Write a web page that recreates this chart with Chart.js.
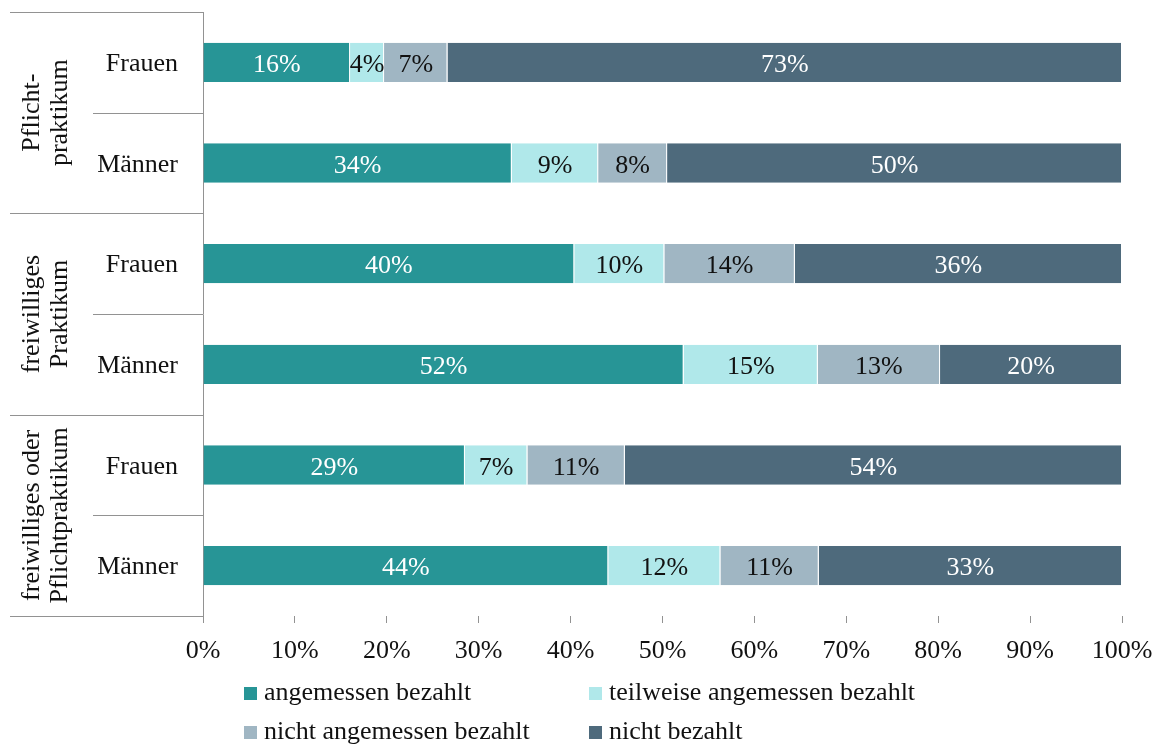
<!DOCTYPE html>
<html>
<head>
<meta charset="utf-8">
<script src="https://cdn.jsdelivr.net/npm/chart.js@4.4.1/dist/chart.umd.min.js"></script>
<style>
  html, body { margin: 0; padding: 0; background: #fff; }
  #wrap { position: relative; width: 1161px; height: 744px; }
</style>
</head>
<body>
<div id="wrap"><canvas id="chart"></canvas></div>
<script>
// Kategorien und Gruppen
const categories = ['Frauen', 'Männer', 'Frauen', 'Männer', 'Frauen', 'Männer'];
const groups = [['Pflicht-', 'praktikum'], ['freiwilliges', 'Praktikum'], ['freiwilliges oder', 'Pflichtpraktikum']];
const seriesNames = ['angemessen bezahlt', 'teilweise angemessen bezahlt', 'nicht angemessen bezahlt', 'nicht bezahlt'];

// Anteile in %
const angemessen = [16.0, 33.6, 40.4, 52.3, 28.5, 44.1];
const teilweise = [3.7, 9.4, 9.8, 14.6, 6.8, 12.2];
const nichtAngemessen = [6.9, 7.5, 14.2, 13.3, 10.6, 10.7];
const nichtBezahlt = [73.4, 49.5, 35.6, 19.8, 54.1, 33.0];

const xTicks = [0, 10, 20, 30, 40, 50, 60, 70, 80, 90, 100];

const colors = ['#279596', '#b0e8ea', '#a0b6c3', '#4e6a7c'];
const labelColors = ['#fff', '#111', '#111', '#fff'];
const FONT = 'Liberation Serif';
const FS = 26;
const lineColor = '#929292';

// Werte in die Balken schreiben
const valueLabels = {
    id: 'valueLabels',
    afterDatasetsDraw(chart) {
        const ctx = chart.ctx;
        ctx.save();
        ctx.font = FS + 'px "' + FONT + '"';
        ctx.textAlign = 'center';
        ctx.textBaseline = 'middle';
        chart.data.datasets.forEach((ds, i) => {
            const meta = chart.getDatasetMeta(i);
            meta.data.forEach((bar, j) => {
                const v = ds.data[j];
                ctx.fillStyle = labelColors[i];
                ctx.fillText(Math.round(v) + '%', (bar.x + bar.base) / 2, bar.y + 3);
            });
        });
        ctx.restore();
    }
};

// Gruppenbeschriftung, Trennlinien und Legende
const sideAndLegend = {
    id: 'sideAndLegend',
    afterDraw(chart) {
        const ctx = chart.ctx;
        const area = chart.chartArea;
        const band = (area.bottom - area.top) / categories.length;
        ctx.save();
        ctx.strokeStyle = lineColor;
        ctx.lineWidth = 1;
        for (let i = 0; i <= categories.length; i++) {
            const y = Math.round(area.top + i * band) + 0.5;
            const x0 = i % 2 === 0 ? 10 : 93;
            ctx.beginPath();
            ctx.moveTo(x0, y);
            ctx.lineTo(area.left, y);
            ctx.stroke();
        }
        // Gruppen (gedreht)
        ctx.fillStyle = '#111';
        ctx.font = FS + 'px "' + FONT + '"';
        ctx.textAlign = 'center';
        ctx.textBaseline = 'middle';
        groups.forEach((lines, g) => {
            const cy = area.top + (g * 2 + 1) * band;
            ctx.save();
            ctx.translate(46, cy);
            ctx.rotate(-Math.PI / 2);
            const lh = 28;
            lines.forEach((t, k) => {
                ctx.fillText(t, 0, (k - (lines.length - 1) / 2) * lh);
            });
            ctx.restore();
        });
        // Legende
        const cols = [244, 589];
        const rows = [693, 732];
        ctx.textAlign = 'left';
        seriesNames.forEach((name, i) => {
            const x = cols[i % 2];
            const y = rows[Math.floor(i / 2)];
            ctx.fillStyle = colors[i];
            ctx.fillRect(x, y - 6, 13, 13);
            ctx.fillStyle = '#111';
            ctx.fillText(name, x + 20, y);
        });
        ctx.restore();
    }
};

const datasets = [angemessen, teilweise, nichtAngemessen, nichtBezahlt].map((d, i) => ({
    label: seriesNames[i],
    data: d,
    backgroundColor: colors[i],
    borderColor: '#fff',
    borderWidth: { left: 0, right: 1, top: 0, bottom: 0 },
    borderSkipped: false,
    barPercentage: 0.39,
    categoryPercentage: 1
}));

function noPad(s) {
    s.paddingTop = 0;
    s.paddingBottom = 0;
    s.paddingLeft = 0;
    s.paddingRight = 0;
}

new Chart(document.getElementById('chart'), {
    type: 'bar',
    data: { labels: categories, datasets: datasets },
    options: {
        indexAxis: 'y',
        responsive: true,
        maintainAspectRatio: false,
        animation: false,
        layout: { padding: { left: 0, right: 39, top: 12, bottom: 0 } },
        scales: {
            x: {
                stacked: true,
                min: 0,
                max: 100,
                afterFit: s => { s.height = 128; noPad(s); },
                afterBuildTicks: s => { s.ticks = xTicks.map(v => ({ value: v })); },
                ticks: {
                    callback: v => v + '%',
                    color: '#111',
                    font: { family: FONT, size: FS },
                    padding: 13,
                    maxRotation: 0
                },
                grid: { drawOnChartArea: false, tickLength: 7, color: lineColor },
                border: { display: false }
            },
            y: {
                stacked: true,
                afterFit: s => { s.width = 203; noPad(s); },
                ticks: {
                    color: '#111',
                    font: { family: FONT, size: FS },
                    padding: 25,
                    labelOffset: 2
                },
                grid: { display: false, drawTicks: false },
                border: { display: true, color: lineColor }
            }
        },
        plugins: {
            legend: { display: false },
            tooltip: { enabled: false }
        }
    },
    plugins: [valueLabels, sideAndLegend]
});
</script>
</body>
</html>
